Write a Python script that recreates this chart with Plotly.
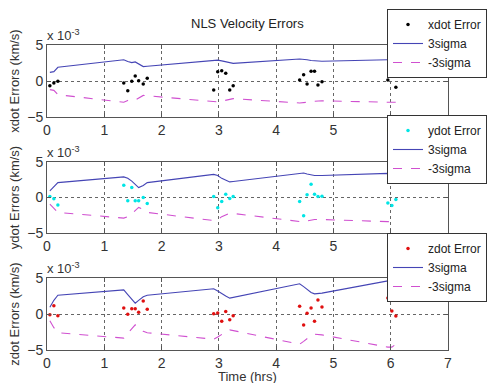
import plotly.graph_objects as go

# observation times (hrs)
t = [0.05, 0.12, 0.19, 1.34, 1.41, 1.48, 1.54, 1.60, 1.68, 1.75,
     2.91, 2.98, 3.05, 3.12, 3.19, 3.25,
     4.41, 4.48, 4.54, 4.61, 4.67, 4.73, 4.80,
     5.95, 6.02, 6.09]

# errors (x 1e-3 km/s)
xdot_err = [-0.65, -0.28, -0.05, -0.28, -1.35, -0.05, 0.70, 0.05, -0.40, 0.37,
            -1.25, 1.30, 1.44, 1.07, -1.25, -0.65,
            0.14, 0.88, -0.42, 1.35, 1.35, -0.56, -0.09,
            0.14, 0.65, -0.88]
ydot_err = [0.14, -0.19, -1.07, 1.72, -0.47, 1.40, -0.47, -0.47, 0.00, -0.84,
            0.14, -1.44, -0.56, 0.47, -0.14, 0.14,
            -0.56, -2.56, 0.37, 1.86, 0.47, 0.14, 0.19,
            -0.79, -1.12, -0.28]
zdot_err = [-0.09, 1.16, -0.23, 0.84, -0.05, 0.74, 0.74, 0.23, 1.81, 0.65,
            0.05, 0.14, -1.02, 0.33, -0.79, -0.23,
            1.07, -1.53, 0.09, 0.84, -1.02, 1.95, 0.98,
            2.23, 0.42, -0.28]

# 3 sigma bounds (x 1e-3 km/s)
xdot_sig = [1.2, 1.3, 1.9, 2.95, 2.7, 2.55, 2.65, 2.4, 2.0, 2.05,
            2.95, 2.9, 2.8, 2.7, 2.5, 2.45,
            3.05, 3.05, 2.95, 2.85, 2.8, 2.75, 2.75,
            2.95, 2.95, 2.95]
ydot_sig = [0.93, 1.5, 2.1, 2.9, 2.7, 2.3, 1.8, 1.4, 1.7, 2.1,
            3.25, 3.1, 2.7, 2.4, 2.2, 2.25,
            3.4, 3.45, 3.3, 3.15, 3.1, 3.1, 3.1,
            3.4, 3.35, 3.35]
zdot_sig = [0.93, 1.9, 2.6, 3.35, 2.7, 2.1, 1.5, 1.9, 2.4, 2.6,
            3.5, 3.2, 2.8, 2.5, 2.2, 2.3,
            4.2, 3.8, 3.4, 3.0, 2.8, 2.8, 2.9,
            4.6, 4.6, 4.2]

x_ticks = [0, 1, 2, 3, 4, 5, 6, 7]
y_ticks = [-5, 0, 5]

names = ["xdot", "ydot", "zdot"]
errs = [xdot_err, ydot_err, zdot_err]
sigs = [xdot_sig, ydot_sig, zdot_sig]
mcolors = ["black", "#00e5e5", "#e01010"]

W, H = 491, 383
ml, mr, mt, mb = 47, 43, 45, 33
ph = H - mt - mb
pw = W - ml - mr
# pixel rows of the three panels (top, bottom)
rows = [(45, 117), (162, 233), (278, 350)]
legend_tops = [9, 115, 233]

def py2paper(py):
    return (H - mb - py) / ph

fig = go.Figure()
layout = dict(
    width=W, height=H,
    margin=dict(l=ml, r=mr, t=mt, b=mb, autoexpand=False),
    paper_bgcolor="white", plot_bgcolor="white",
    font=dict(family="Liberation Sans, Arial, sans-serif", color="#333333"),
    showlegend=True,
    annotations=[],
)

for i, (nm, e, s, mc) in enumerate(zip(names, errs, sigs, mcolors)):
    sfx = "" if i == 0 else str(i + 1)
    xa = "x" + sfx
    ya = "y" + sfx
    leg = "legend" + sfx
    fig.add_trace(go.Scatter(x=t, y=e, mode="markers", name=nm + " Error",
                             marker=dict(color=mc, size=3.5, symbol="circle"),
                             xaxis=xa, yaxis=ya, legend=leg))
    fig.add_trace(go.Scatter(x=t, y=s, mode="lines", name="3sigma",
                             line=dict(color="#4545b5", width=1.1),
                             xaxis=xa, yaxis=ya, legend=leg))
    fig.add_trace(go.Scatter(x=t, y=[-v for v in s], mode="lines", name="-3sigma",
                             line=dict(color="#d050d0", width=1.1, dash="dash"),
                             xaxis=xa, yaxis=ya, legend=leg))
    top, bot = rows[i]
    dom = [py2paper(bot), py2paper(top)]
    axcommon = dict(showline=True, linecolor="#555555", linewidth=1, mirror="ticks",
                    ticks="inside", ticklen=4, tickcolor="#555555",
                    showgrid=True, gridcolor="#666666", griddash="dot", gridwidth=1,
                    zeroline=False, tickfont=dict(size=14, color="#333333"))
    layout["xaxis" + sfx] = dict(axcommon, range=[0, 7], tickvals=x_ticks,
                                 anchor=ya, domain=[0, 1])
    layout["yaxis" + sfx] = dict(axcommon, range=[-5, 5], tickvals=y_ticks,
                                 anchor=xa, domain=dom,
                                 title=dict(text=nm + " Errors (km/s)",
                                            font=dict(size=13, color="#333333"),
                                            standoff=4))
    layout[leg] = dict(x=(387 - ml) / pw, y=py2paper(legend_tops[i]),
                       xanchor="left", yanchor="top", bgcolor="white",
                       bordercolor="#333333", borderwidth=1,
                       font=dict(size=12, color="#222222"),
                       tracegroupgap=0, itemwidth=30)
    layout["annotations"].append(dict(
        text="x 10<sup>-3</sup>", xref="paper", yref="paper", x=-0.005,
        y=dom[1], xanchor="left", yanchor="bottom", showarrow=False,
        font=dict(size=13, color="#333333")))

layout["annotations"].append(dict(
    text="NLS Velocity Errors", xref="paper", yref="paper", x=0.5,
    y=py2paper(24), xanchor="center", yanchor="middle", showarrow=False,
    font=dict(size=13, color="#222222")))
layout["annotations"].append(dict(
    text="Time (hrs)", xref="paper", yref="paper", x=0.5,
    y=py2paper(376), xanchor="center", yanchor="middle", showarrow=False,
    font=dict(size=13, color="#333333")))

fig.update_layout(**layout)
fig.write_html("out.html", config={"displayModeBar": False},
               post_script="document.body.style.margin='0';document.body.style.overflow='hidden';")
